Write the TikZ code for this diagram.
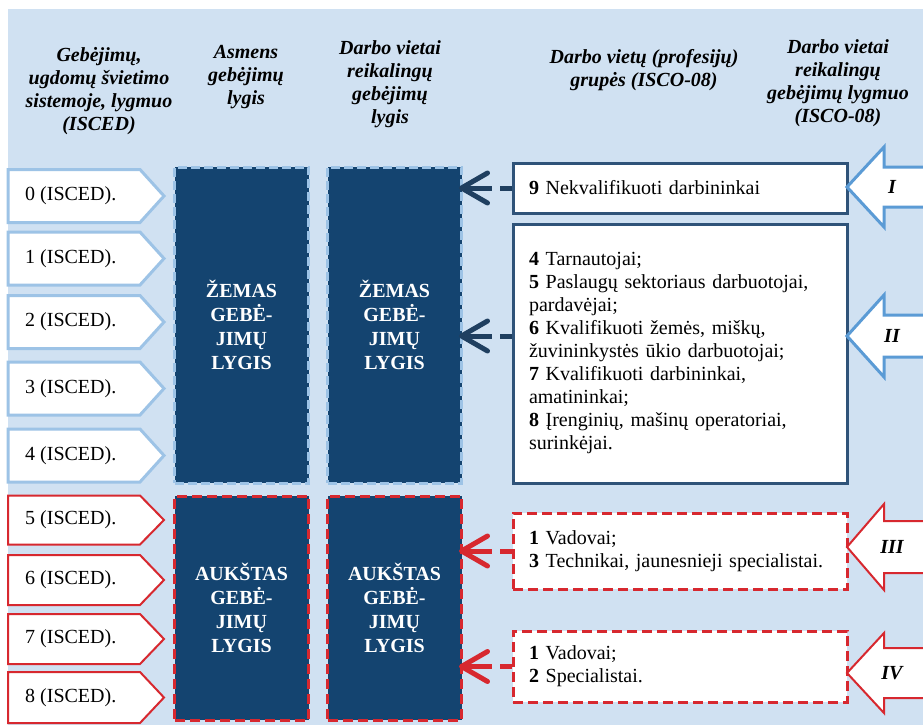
\documentclass[tikz,border=0pt]{standalone}
\usepackage{fontspec}
\setmainfont{LiberationSerif}[
  Extension=.ttf,
  UprightFont=*-Regular,
  BoldFont=*-Bold,
  ItalicFont=*-Italic,
  BoldItalicFont=*-BoldItalic]
\usepackage{xcolor}
\usetikzlibrary{arrows.meta,positioning,calc}
\definecolor{skybg}{HTML}{D0E1F2}
\definecolor{navy}{HTML}{144470}
\definecolor{paleblue}{HTML}{9DC3E6}
\definecolor{midblue}{HTML}{5B9BD5}
\definecolor{slate}{HTML}{2F5379}
\definecolor{alertred}{HTML}{D7282F}
\definecolor{inkblue}{HTML}{1F3F60}
\tikzset{
  headtext/.style={align=center, inner sep=0pt,
    font=\fontsize{20}{23}\selectfont\bfseries\itshape},
  iscededge/.style={draw=#1, fill=white, line width=3pt, line join=miter},
  iscededge/.default=paleblue,
  iscedtext/.style={anchor=west, inner sep=0pt,
    font=\fontsize{20}{23}\selectfont},
  levelbox/.style={
    rectangle, fill=navy, draw=#1, line width=3pt,
    dash pattern=on 9pt off 4pt,
    minimum width=134pt, inner sep=0pt,
    text=white, align=center,
    font=\fontsize{20}{24}\selectfont\bfseries
  },
  levelbox/.default=paleblue,
  groupbox/.style={
    rectangle, fill=white, draw=slate, line width=3pt,
    minimum width=334pt, text width=302pt, inner xsep=16pt,
    align=left, font=\fontsize{20}{23}\selectfont
  },
  groupboxred/.style={groupbox, draw=alertred, dash pattern=on 10pt off 5pt},
  linkarrow/.style={
    draw=#1, line width=5pt, shorten >=-4pt,
    dash pattern=on 12pt off 8pt on 60pt off 0pt,
    -{Straight Barb[length=26pt, width=30pt, round]}
  },
  linkarrow/.default=inkblue,
  bigarrow/.style={draw=#1, fill=white, line width=3pt, line join=miter},
  romantext/.style={inner sep=0pt, font=\fontsize{20}{23}\selectfont\bfseries\itshape},
}
\begin{document}
\begin{tikzpicture}[x=1pt,y=-1pt]
  \useasboundingbox (0,0) rectangle (923,725);
  \fill[skybg] (8,9) rectangle (923,725);

  % column heads
  \node[headtext] (headisced) at (99,91) {Gebėjimų,\\ugdomų švietimo\\sistemoje, lygmuo\\(ISCED)};
  \node[headtext] (headperson) at (246,77) {Asmens\\gebėjimų\\lygis};
  \node[headtext] (headjob) at (390,84) {Darbo vietai\\reikalingų\\gebėjimų\\lygis};
  \node[headtext] (headgroups) at (644,70) {Darbo vietų (profesijų)\\grupės (ISCO-08)};
  \node[headtext] (headisco) at (838,83) {Darbo vietai\\reikalingų\\gebėjimų lygmuo\\(ISCO-08)};

  % ISCED levels
  \foreach \n/\y/\h/\c/\w in {0/196/26.5/paleblue/3, 1/258.5/26.5/paleblue/3,
      2/322/26.5/paleblue/3, 3/388.5/26.5/paleblue/3, 4/455.5/26.5/paleblue/3,
      5/520/24.5/alertred/2, 6/580/25/alertred/2, 7/639/25/alertred/2,
      8/697.5/25.5/alertred/2}{
    \draw[iscededge=\c, line width=\w pt] ({8},{\y-\h}) -- ({140},{\y-\h})
      -- ({164},{\y}) -- ({140},{\y+\h}) -- ({8},{\y+\h}) -- cycle;
    \node[iscedtext] (isced\n) at (25,\y) {\n\ (ISCED).};
  }

  % skill levels
  \node[levelbox, minimum height=316pt] (low1) at (241.5,325) {ŽEMAS\\GEBĖ-\\JIMŲ\\LYGIS};
  \node[levelbox, minimum height=316pt] (low2) at (394.5,325) {ŽEMAS\\GEBĖ-\\JIMŲ\\LYGIS};
  \node[levelbox=alertred, minimum height=224pt, dash pattern=on 10pt off 5pt]
    (high1) at (241.5,608) {AUKŠTAS\\GEBĖ-\\JIMŲ\\LYGIS};
  \node[levelbox=alertred, minimum height=224pt, dash pattern=on 10pt off 5pt]
    (high2) at (394.5,608) {AUKŠTAS\\GEBĖ-\\JIMŲ\\LYGIS};

  % ISCO-08 groups
  \node[groupbox, minimum height=50pt] (job9) at (680,188)
    {\textbf{9} Nekvalifikuoti darbininkai};
  \node[groupbox, minimum height=259pt] (job48) at (680,353.5)
    {\textbf{4} Tarnautojai;\\
     \textbf{5} Paslaugų sektoriaus darbuotojai,\\pardavėjai;\\
     \textbf{6} Kvalifikuoti žemės, miškų,\\žuvininkystės ūkio darbuotojai;\\
     \textbf{7} Kvalifikuoti darbininkai,\\amatininkai;\\
     \textbf{8} Įrenginių, mašinų operatoriai,\\surinkėjai.};
  \node[groupboxred, minimum height=76pt] (job13) at (680,551)
    {\textbf{1} Vadovai;\\\textbf{3} Technikai, jaunesnieji specialistai.};
  \node[groupboxred, minimum height=71pt] (job12) at (680,666.5)
    {\textbf{1} Vadovai;\\\textbf{2} Specialistai.};

  % ISCO-08 skill levels
  \foreach \r/\y/\hh/\sh/\c/\w/\t in {I/187/40/20/midblue/3/I, II/336/41/21/midblue/3/II,
      III/547/43/26/alertred/2/III, IV/673/40/25/alertred/2/IV}{
    \draw[bigarrow=\c, line width=\w pt] ({847},{\y}) -- ({884},{\y-\hh})
      -- ({884},{\y-\sh}) -- ({930},{\y-\sh}) -- ({930},{\y+\sh})
      -- ({884},{\y+\sh}) -- ({884},{\y+\hh}) -- cycle;
    \node[romantext] (lvl\r) at (892,\y) {\t};
  }

  % links
  \draw[linkarrow] (job9.west) -- (low2.east |- job9.west);
  \draw[linkarrow] (job48.west |- lvlII) -- (low2.east |- lvlII);
  \draw[linkarrow=alertred] (job13.west) -- (high2.east |- job13.west);
  \draw[linkarrow=alertred] (job12.west) -- (high2.east |- job12.west);
\end{tikzpicture}
\end{document}
